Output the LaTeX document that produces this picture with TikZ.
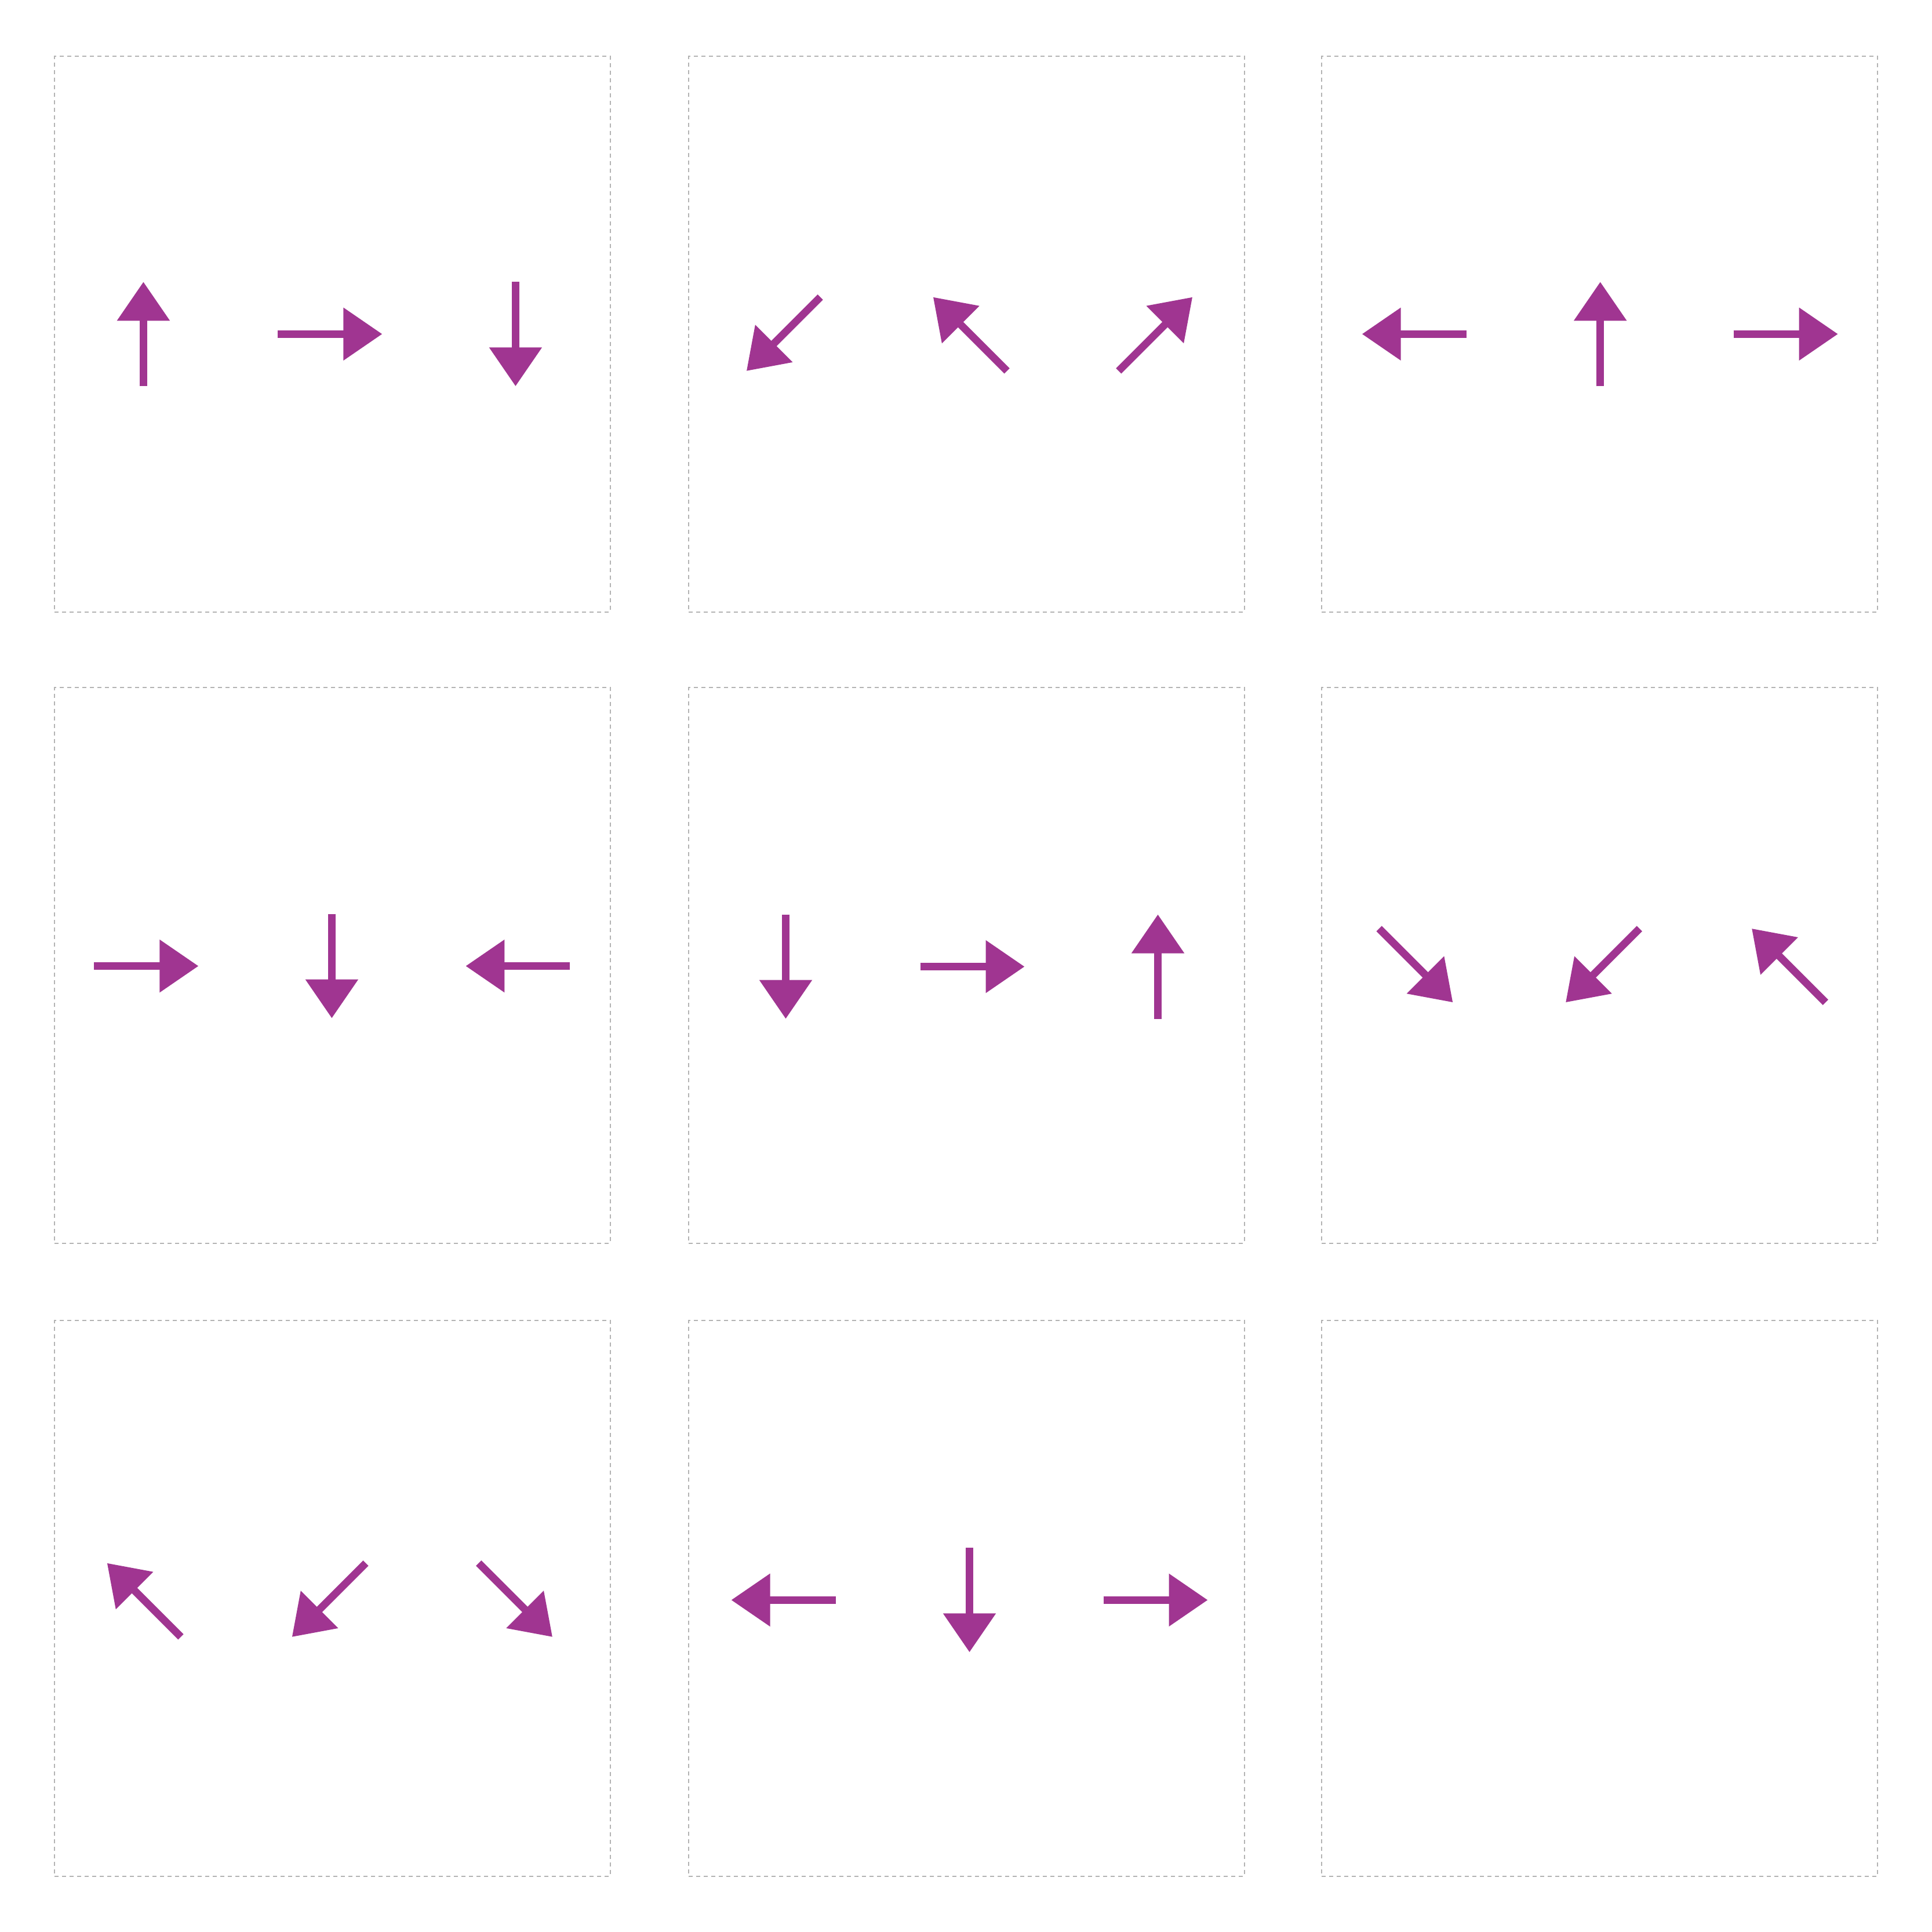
\documentclass[tikz,border=0pt]{standalone}
\usepackage{tikz}
\usetikzlibrary{arrows.meta,calc}
\usepackage{xcolor}
\definecolor{plum}{HTML}{A03591}
\definecolor{frame}{HTML}{B3B3B3}

\begin{document}
\begin{tikzpicture}[
  panel/.style={draw=frame,line width=0.02cm,dash pattern=on 0.07cm off 0.06cm,minimum size=9.585cm,inner sep=0pt,outer sep=0pt},
  vec/.style={draw=plum,line width=0.13cm,-{Triangle[length=0.67cm,width=0.88cm]}}]
  \useasboundingbox (0,0) rectangle (33.33,33.33);
  \node (b1) at (5.734,27.567) [panel] {};
  \node (b2) at (16.675,27.567) [panel] {};
  \node (b3) at (27.597,27.567) [panel] {};
  \node (b4) at (5.734,16.674) [panel] {};
  \node (b5) at (16.675,16.674) [panel] {};
  \node (b6) at (27.597,16.674) [panel] {};
  \node (b7) at (5.734,5.757) [panel] {};
  \node (b8) at (16.675,5.757) [panel] {};
  \node (b9) at (27.597,5.757) [panel] {};
  % first row
  \draw[vec] ($(b1)+(-3.26,0)+(270:0.9)$) -- ++(90:1.8);
  \draw[vec] ($(b1)+(-0.04,0)+(180:0.9)$) -- ++(0:1.8);
  \draw[vec] ($(b1)+(3.16,0)+(90:0.9)$) -- ++(270:1.8);
  \draw[vec] ($(b2)+(-3.16,0)+(45:0.9)$) -- ++(225:1.8);
  \draw[vec] ($(b2)+(0.06,0)+(315:0.9)$) -- ++(135:1.8);
  \draw[vec] ($(b2)+(3.26,0)+(225:0.9)$) -- ++(45:1.8);
  \draw[vec] ($(b3)+(-3.2,0)+(0:0.9)$) -- ++(180:1.8);
  \draw[vec] ($(b3)+(0.01,0)+(270:0.9)$) -- ++(90:1.8);
  \draw[vec] ($(b3)+(3.21,0)+(180:0.9)$) -- ++(0:1.8);
  % second row
  \draw[vec] ($(b4)+(-3.21,-0.01)+(180:0.9)$) -- ++(0:1.8);
  \draw[vec] ($(b4)+(-0.01,-0.01)+(90:0.9)$) -- ++(270:1.8);
  \draw[vec] ($(b4)+(3.2,-0.01)+(0:0.9)$) -- ++(180:1.8);
  \draw[vec] ($(b5)+(-3.12,-0.02)+(90:0.9)$) -- ++(270:1.8);
  \draw[vec] ($(b5)+(0.1,-0.02)+(180:0.9)$) -- ++(0:1.8);
  \draw[vec] ($(b5)+(3.3,-0.02)+(270:0.9)$) -- ++(90:1.8);
  \draw[vec] ($(b6)+(-3.17,0)+(135:0.9)$) -- ++(315:1.8);
  \draw[vec] ($(b6)+(0.05,0)+(45:0.9)$) -- ++(225:1.8);
  \draw[vec] ($(b6)+(3.26,0)+(315:0.9)$) -- ++(135:1.8);
  % third row
  \draw[vec] ($(b7)+(-3.25,-0.03)+(315:0.9)$) -- ++(135:1.8);
  \draw[vec] ($(b7)+(-0.06,-0.03)+(45:0.9)$) -- ++(225:1.8);
  \draw[vec] ($(b7)+(3.16,-0.03)+(135:0.9)$) -- ++(315:1.8);
  \draw[vec] ($(b8)+(-3.16,-0.03)+(0:0.9)$) -- ++(180:1.8);
  \draw[vec] ($(b8)+(0.05,-0.03)+(90:0.9)$) -- ++(270:1.8);
  \draw[vec] ($(b8)+(3.26,-0.03)+(180:0.9)$) -- ++(0:1.8);
\end{tikzpicture}
\end{document}
